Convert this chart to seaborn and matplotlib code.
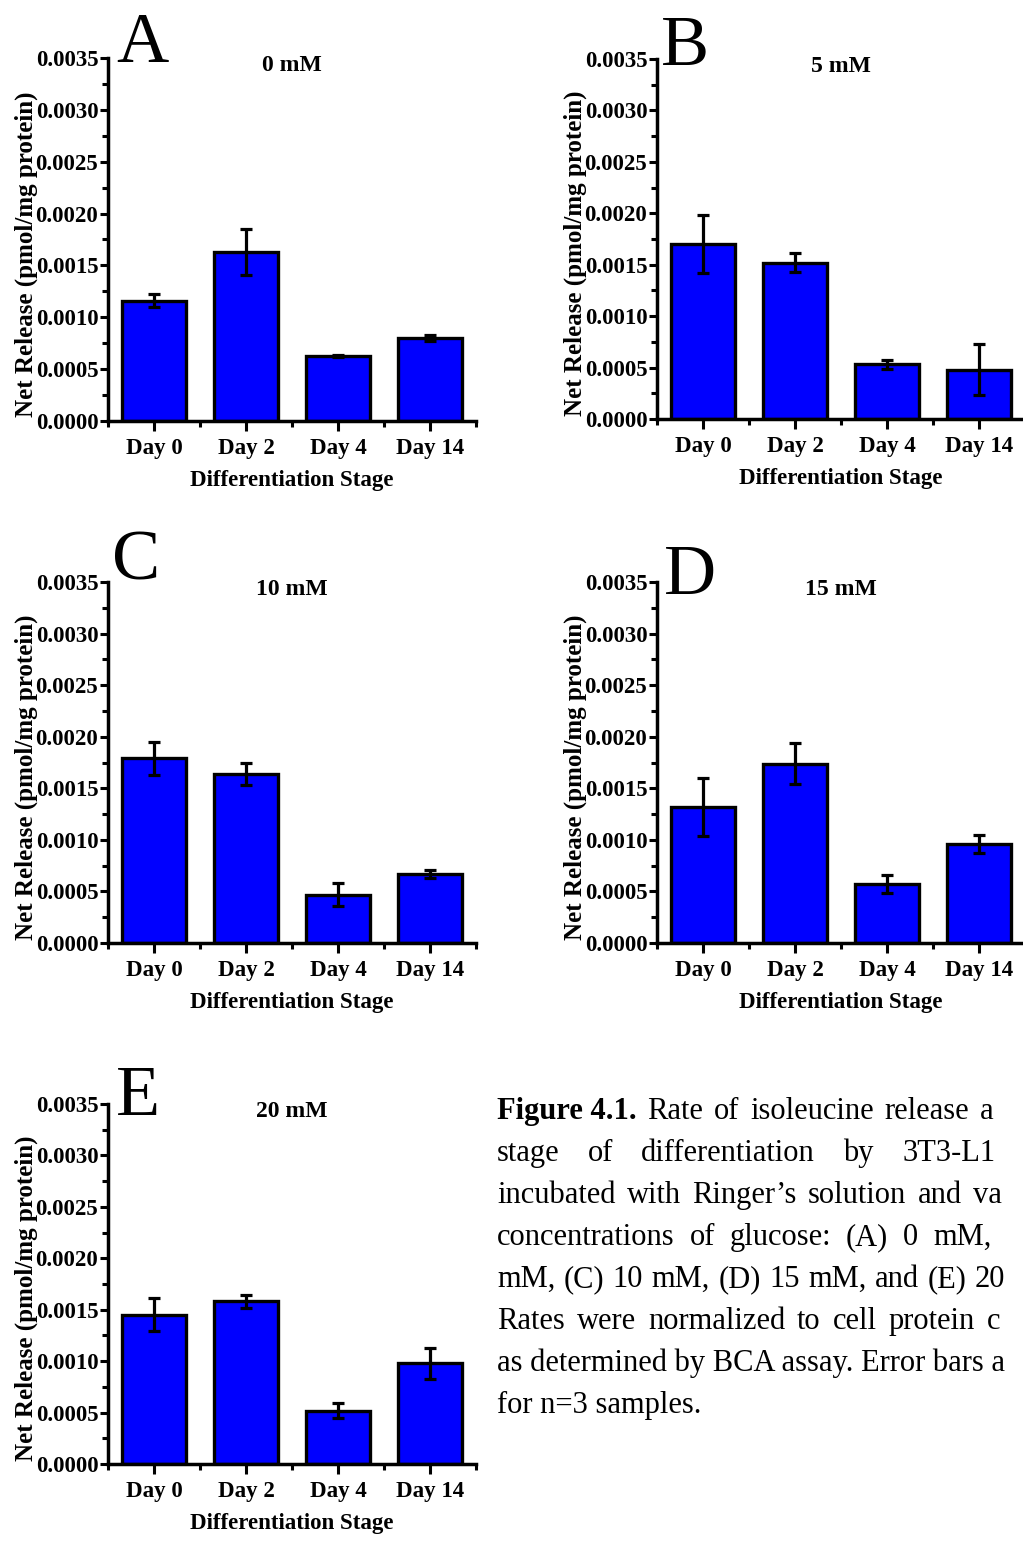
import matplotlib
matplotlib.use("Agg")
import matplotlib.pyplot as plt
import seaborn as sns
import pandas as pd
from matplotlib.ticker import FixedLocator, MultipleLocator, FormatStrFormatter

# ---- data: net isoleucine release (pmol/mg protein), mean and error ----
days = ["Day 0", "Day 2", "Day 4", "Day 14"]
conc_titles = ["0 mM", "5 mM", "10 mM", "15 mM", "20 mM"]
panel_letters = ["A", "B", "C", "D", "E"]

mean_0mM = [0.00116, 0.00163, 0.00063, 0.00080]
err_0mM = [0.00006, 0.000225, 0.00001, 0.00003]
mean_5mM = [0.00170, 0.00152, 0.00053, 0.00048]
err_5mM = [0.00028, 0.00009, 0.00004, 0.00025]
mean_10mM = [0.00179, 0.00164, 0.00047, 0.00067]
err_10mM = [0.00016, 0.00011, 0.00011, 0.00004]
mean_15mM = [0.00132, 0.00174, 0.00057, 0.00096]
err_15mM = [0.00028, 0.00020, 0.00009, 0.00009]
mean_20mM = [0.00145, 0.00158, 0.00052, 0.00098]
err_20mM = [0.00016, 0.00006, 0.00007, 0.00015]

means = [mean_0mM, mean_5mM, mean_10mM, mean_15mM, mean_20mM]
errors = [err_0mM, err_5mM, err_10mM, err_15mM, err_20mM]

y_label = "Net Release (pmol/mg protein)"
x_label = "Differentiation Stage"

# caption, one list of words per line (first entry bold on line 1)
caption_lines = [
    ["Figure 4.1.", "Rate", "of", "isoleucine", "release", "a"],
    ["stage", "of", "differentiation", "by", "3T3-L1"],
    ["incubated", "with", "Ringer\u2019s", "solution", "and", "va"],
    ["concentrations", "of", "glucose:", "(A)", "0", "mM,"],
    ["mM,", "(C)", "10", "mM,", "(D)", "15", "mM,", "and", "(E)", "20"],
    ["Rates", "were", "normalized", "to", "cell", "protein", "c"],
    ["as determined by BCA assay. Error bars a"],
    ["for n=3 samples."],
]
bold_words = {(0, 0)}

# ---- layout (pixels) ----
W, H = 1023, 1549
panel_boxes = [(108, 58, 476, 421), (657, 59, 1025, 419), (108, 582, 476, 943),
               (657, 582, 1025, 943), (108, 1104, 476, 1464)]
letter_pos = [(116, 62), (661, 65), (112, 580), (664, 594), (116, 1115)]
caption_left = 497
# x where the last word of each justified line starts (None = ragged line)
caption_last_x = [980, 902, 973, 933, 975, 987, None, None]
caption_baseline0, caption_step = 1119, 42
caption_size = 22

sns.set_theme(style="ticks", rc={
    "axes.edgecolor": "black", "xtick.color": "black", "ytick.color": "black",
    "text.color": "black", "axes.labelcolor": "black", "axes.facecolor": "white",
    "figure.facecolor": "white",
})
plt.rcParams["font.family"] = ["Liberation Serif", "DejaVu Serif"]

fig = plt.figure(figsize=(W / 100, H / 100), dpi=100)


def px_axes(left, top, right, bottom):
    return fig.add_axes([left / W, 1 - bottom / H, (right - left) / W, (bottom - top) / H])


for i in range(5):
    left, top, right, bottom = panel_boxes[i]
    ax = px_axes(left, top, right, bottom)
    df = pd.DataFrame({"stage": days, "release": means[i]})
    sns.barplot(data=df, x="stage", y="release", color="#0000ff", saturation=1,
                edgecolor="black", linewidth=2.4, width=0.7, errorbar=None, ax=ax)
    ax.errorbar(range(len(days)), means[i], yerr=errors[i], fmt="none", ecolor="black",
                elinewidth=2.3, capsize=4, capthick=2.3, zorder=5)
    ax.set_xlim(-0.5, 3.5)
    ax.set_ylim(0, 0.0035)
    ax.yaxis.set_major_locator(MultipleLocator(0.0005))
    ax.yaxis.set_minor_locator(MultipleLocator(0.00025))
    ax.yaxis.set_major_formatter(FormatStrFormatter("%.4f"))
    ax.xaxis.set_minor_locator(FixedLocator([-0.5, 0.5, 1.5, 2.5, 3.5]))
    sns.despine(ax=ax)
    for s in ("left", "bottom"):
        ax.spines[s].set_linewidth(2.5)
        ax.spines[s].set_color("black")
    ax.tick_params(axis="y", which="major", direction="out", length=6, width=2.2,
                   labelsize=16.5, pad=1)
    ax.tick_params(axis="x", which="major", direction="out", length=7, width=2.2,
                   labelsize=16.5, pad=5)
    ax.tick_params(which="minor", direction="out", length=4, width=2.2)
    for lab in ax.get_xticklabels() + ax.get_yticklabels():
        lab.set_fontweight("bold")
    ax.set_ylabel(y_label, fontsize=18, fontweight="bold")
    ax.set_xlabel(x_label, fontsize=16.5, fontweight="bold")
    ax.yaxis.set_label_coords(-0.19, 0.46)
    ax.xaxis.set_label_coords(0.5, -0.135)
    ax.text(0.5, (bottom - (top + 13)) / (bottom - top), conc_titles[i],
            transform=ax.transAxes, ha="center", va="baseline",
            fontsize=17, fontweight="bold")
    lx, ly = letter_pos[i]
    fig.text(lx / W, 1 - ly / H, panel_letters[i], fontsize=52, ha="left",
             va="baseline")

# caption, justified word by word on each full line
renderer = fig.canvas.get_renderer()
for li, words in enumerate(caption_lines):
    yb = 1 - (caption_baseline0 + li * caption_step) / H
    texts = [fig.text(0, yb, w, fontsize=caption_size, ha="left", va="baseline",
                      fontweight="bold" if (li, wi) in bold_words else "normal")
             for wi, w in enumerate(words)]
    widths = [t.get_window_extent(renderer).width for t in texts]
    last_x = caption_last_x[li]
    if last_x is None or len(words) == 1:
        texts[0].set_x(caption_left / W)
        continue
    gap = (last_x - caption_left - sum(widths[:-1])) / (len(words) - 1)
    x = caption_left
    for t, wd in zip(texts, widths):
        t.set_x(x / W)
        x += wd + gap

fig.savefig("out.png", dpi=100, facecolor="white")
